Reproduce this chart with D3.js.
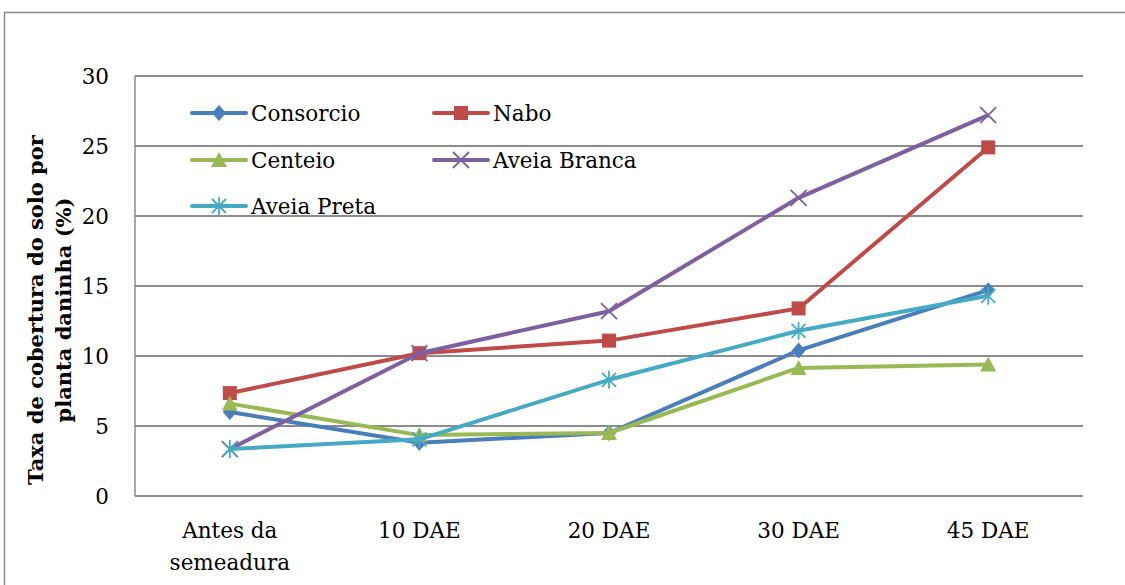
<!DOCTYPE html>
<html>
<head>
<meta charset="utf-8">
<script src="https://cdn.jsdelivr.net/npm/d3@7"></script>
<style>
  body { margin: 0; background: white; }
  text { font-family: "DejaVu Serif", "Liberation Serif", serif; }
</style>
</head>
<body>
<svg id="chart"></svg>
<script>
const categories = ["Antes da|semeadura", "10 DAE", "20 DAE", "30 DAE", "45 DAE"];
const yTicks = [0, 5, 10, 15, 20, 25, 30];

const consorcio = [6.0, 3.8, 4.5, 10.4, 14.7];
const nabo = [7.35, 10.2, 11.1, 13.4, 24.9];
const centeio = [6.6, 4.35, 4.5, 9.15, 9.4];
const aveiaBranca = [3.35, 10.2, 13.2, 21.3, 27.2];
const aveiaPreta = [3.35, 4.05, 8.3, 11.8, 14.3];

const seriesNames = ["Consorcio", "Nabo", "Centeio", "Aveia Branca", "Aveia Preta"];

const WIDTH = 1125, HEIGHT = 585;
const MARGIN = { left: 135, top: 76, right: 42, bottom: 89 };
const FS = "21.5px";

const svg = d3.select("#chart").attr("width", WIDTH).attr("height", HEIGHT);

svg.append("rect").attr("width", WIDTH).attr("height", HEIGHT).attr("fill", "white");

// outer frame (cut off at right and bottom)
svg.append("path")
  .attr("d", `M4.5,${HEIGHT + 5} L4.5,12.5 L${WIDTH + 5},12.5`)
  .attr("fill", "none").attr("stroke", "#8c8c8c").attr("stroke-width", 1.5);

const x = d3.scaleBand()
  .domain(categories)
  .range([MARGIN.left, WIDTH - MARGIN.right]);

const y = d3.scaleLinear()
  .domain([0, 30])
  .range([HEIGHT - MARGIN.bottom, MARGIN.top]);

// gridlines
svg.append("g").selectAll("line")
  .data(yTicks)
  .join("line")
  .attr("x1", MARGIN.left).attr("x2", WIDTH - MARGIN.right)
  .attr("y1", d => y(d)).attr("y2", d => y(d))
  .attr("stroke", "#8c8c8c").attr("stroke-width", 2);

// y axis line
svg.append("line")
  .attr("x1", MARGIN.left).attr("x2", MARGIN.left)
  .attr("y1", y(0)).attr("y2", y(30))
  .attr("stroke", "#8c8c8c").attr("stroke-width", 1.5);

// y tick labels
svg.append("g").selectAll("text")
  .data(yTicks)
  .join("text")
  .attr("x", MARGIN.left - 26)
  .attr("y", d => y(d) + 8)
  .attr("text-anchor", "end")
  .style("font-size", FS)
  .text(d => d);

// x labels
const xl = svg.append("g").selectAll("text")
  .data(categories)
  .join("text")
  .attr("x", d => x(d) + x.bandwidth() / 2)
  .attr("y", y(0) + 42)
  .attr("text-anchor", "middle")
  .style("font-size", FS);
xl.each(function(d) {
  const parts = d.split("|");
  d3.select(this).selectAll("tspan")
    .data(parts)
    .join("tspan")
    .attr("x", x(d) + x.bandwidth() / 2)
    .attr("dy", (p, i) => i === 0 ? 0 : 32)
    .text(p => p);
});

// y title
const yTitle = svg.append("text")
  .attr("transform", "translate(0,310) rotate(-90)")
  .attr("text-anchor", "middle")
  .style("font-size", "21px")
  .style("font-weight", "bold");
yTitle.append("tspan").attr("x", 0).attr("y", 43).text("Taxa de cobertura do solo por");
yTitle.append("tspan").attr("x", 0).attr("y", 71).text("planta daninha (%)");

const seriesData = [consorcio, nabo, centeio, aveiaBranca, aveiaPreta];
const colors = ["#4a7ebb", "#be4b48", "#98b954", "#7d60a0", "#46aac5"];
const shapes = ["diamond", "square", "triangle", "x", "star"];

function drawMarker(g, shape, color) {
  if (shape === "diamond") {
    g.append("path").attr("d", "M0,-8 L7,0 L0,8 L-7,0 Z").attr("fill", color);
  } else if (shape === "square") {
    g.append("rect").attr("x", -7).attr("y", -7).attr("width", 14).attr("height", 14).attr("fill", color);
  } else if (shape === "triangle") {
    g.append("path").attr("d", "M0,-8 L8,7 L-8,7 Z").attr("fill", color);
  } else if (shape === "x") {
    g.append("path").attr("d", "M-8,-8 L8,8 M-8,8 L8,-8").attr("stroke", color).attr("stroke-width", 1.8);
  } else if (shape === "star") {
    g.append("path").attr("d", "M-7,-7 L7,7 M-7,7 L7,-7 M0,-9 L0,9").attr("stroke", color).attr("stroke-width", 1.8);
  }
}

const line = d3.line()
  .x((d, i) => x(categories[i]) + x.bandwidth() / 2)
  .y(d => y(d));

seriesData.forEach((vals, s) => {
  svg.append("path")
    .datum(vals)
    .attr("d", line)
    .attr("fill", "none")
    .attr("stroke", colors[s])
    .attr("stroke-width", 4)
    .attr("stroke-linejoin", "round");
  vals.forEach((v, i) => {
    const g = svg.append("g")
      .attr("transform", `translate(${x(categories[i]) + x.bandwidth() / 2},${y(v)})`);
    drawMarker(g, shapes[s], colors[s]);
  });
});

// legend
const legendPos = [[192, 113], [434, 113], [192, 160], [434, 160], [192, 206]];
seriesNames.forEach((name, s) => {
  const [lx, ly] = legendPos[s];
  const g = svg.append("g").attr("transform", `translate(${lx},${ly})`);
  g.append("line").attr("x1", 0).attr("x2", 54).attr("y1", 0).attr("y2", 0)
    .attr("stroke", colors[s]).attr("stroke-width", 4).attr("stroke-linecap", "round");
  const m = g.append("g").attr("transform", "translate(27,0)");
  drawMarker(m, shapes[s], colors[s]);
  g.append("text").attr("x", 59).attr("y", 8).style("font-size", FS).text(name);
});
</script>
</body>
</html>
